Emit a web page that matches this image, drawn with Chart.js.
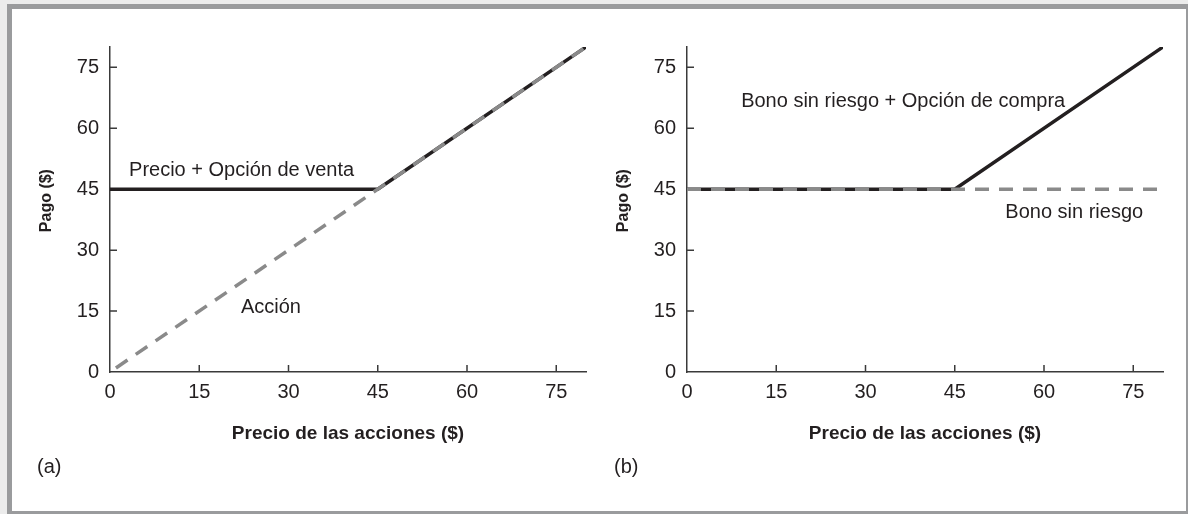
<!DOCTYPE html>
<html>
<head>
<meta charset="utf-8">
<title>Pago de opciones</title>
<script src="https://cdn.jsdelivr.net/npm/chart.js@4.4.1/dist/chart.umd.min.js"></script>
<style>
  body { margin: 0; width: 1188px; height: 514px; overflow: hidden; position: relative; background: #ececec; }
  #frame { position: absolute; left: 7px; top: 4px; width: 1184px; height: 512px; box-sizing: border-box; border: 5px solid #9a9b9d; background: #fff; }
  .panel { position: absolute; top: 9px; width: 577px; height: 500px; }
  #panelA { left: 12px; }
  #panelB { left: 589px; }
</style>
</head>
<body>
<div id="frame"></div>
<div class="panel" id="panelA"><canvas id="chartA"></canvas></div>
<div class="panel" id="panelB"><canvas id="chartB"></canvas></div>
<script>
// ejes
const tickValues = [0, 15, 30, 45, 60, 75];
const xMax = 80;
const yMax = 80;

// (a) precio + opción de venta vs acción
const aPutPrice = [0, 45, 80];
const aPutPay = [45, 45, 80];
const aStockPrice = [1, 80];
const aStockPay = [1, 80];

// (b) bono sin riesgo + opción de compra vs bono
const bCallPrice = [0, 45, 80];
const bCallPay = [45, 45, 80];
const bBondPrice = [0, 80];
const bBondPay = [45, 45];

// rótulos en coordenadas de datos [texto, x, y]
const aNotes = [['Precio + Opción de venta', 3.2, 48.2], ['Acción', 22, 14.5]];
const bNotes = [['Bono sin riesgo + Opción de compra', 9.1, 65.2], ['Bono sin riesgo', 53.5, 38]];

const FONT = '"Liberation Sans", Arial, sans-serif';
const textColor = '#231f20';
const axisColor = '#3a3a3a';
const black = '#231f20';
const gray = '#8a8a8a';

function toPoints(xs, ys) {
    return xs.map((x, i) => ({ x: x, y: ys[i] }));
}

const decor = {
    id: 'decor',
    beforeDatasetsDraw(chart) {
        // marcas de los ejes hacia dentro
        const { ctx, scales: { x, y } } = chart;
        ctx.save();
        ctx.strokeStyle = axisColor;
        ctx.lineWidth = 1.5;
        ctx.beginPath();
        tickValues.forEach(v => {
            if (v === 0) return;
            const px = x.getPixelForValue(v);
            ctx.moveTo(px, y.bottom);
            ctx.lineTo(px, y.bottom - 7);
            const py = y.getPixelForValue(v);
            ctx.moveTo(x.left, py);
            ctx.lineTo(x.left + 7, py);
        });
        ctx.stroke();
        ctx.restore();
    },
    afterDatasetsDraw(chart, args, opts) {
        const { ctx, scales: { x, y } } = chart;
        ctx.save();
        ctx.fillStyle = textColor;
        ctx.font = '20px ' + FONT;
        ctx.textAlign = 'left';
        ctx.textBaseline = 'alphabetic';
        opts.notes.forEach(n => {
            ctx.fillText(n[0], x.getPixelForValue(n[1]), y.getPixelForValue(n[2]));
        });
        ctx.fillText(opts.tag, 25, 464);
        ctx.restore();
    }
};

function makePanel(id, datasets, notes, tag) {
    return new Chart(document.getElementById(id), {
        type: 'line',
        data: { datasets: datasets },
        options: {
            responsive: true,
            maintainAspectRatio: false,
            animation: false,
            events: [],
            layout: { padding: { top: 38, right: 3, left: 0, bottom: 0 } },
            plugins: {
                legend: { display: false },
                tooltip: { enabled: false },
                decor: { notes: notes, tag: tag }
            },
            elements: { point: { radius: 0 }, line: { tension: 0, borderCapStyle: 'butt' } },
            scales: {
                x: {
                    type: 'linear',
                    min: 0,
                    max: xMax,
                    afterBuildTicks: s => { s.ticks = tickValues.map(v => ({ value: v })); },
                    afterFit: s => { s.height = 137; },
                    grid: { display: false, drawTicks: false },
                    border: { display: true, color: axisColor, width: 1.5 },
                    ticks: { color: textColor, font: { family: FONT, size: 20 }, padding: 8, maxRotation: 0, autoSkip: false },
                    title: {
                        display: true,
                        text: 'Precio de las acciones ($)',
                        color: textColor,
                        font: { family: FONT, size: 19, weight: 'bold' },
                        padding: { top: 0, bottom: 64 }
                    }
                },
                y: {
                    type: 'linear',
                    min: 0,
                    max: yMax,
                    afterBuildTicks: s => { s.ticks = tickValues.map(v => ({ value: v })); },
                    afterFit: s => { s.width = 98; },
                    grid: { display: false, drawTicks: false },
                    border: { display: true, color: axisColor, width: 1.5 },
                    ticks: { color: textColor, font: { family: FONT, size: 20 }, padding: 11, autoSkip: false },
                    title: {
                        display: true,
                        // espacios delante para subir el título unos píxeles
                        text: '\u00a0\u00a0\u00a0\u00a0Pago ($)',
                        color: textColor,
                        font: { family: FONT, size: 16, weight: 'bold' },
                        padding: { top: 25, bottom: 0 }
                    }
                }
            }
        },
        plugins: [decor]
    });
}

// el gris discontinuo va primero para quedar encima de la línea negra
makePanel('chartA', [
    { data: toPoints(aStockPrice, aStockPay), borderColor: gray, borderWidth: 3.5, borderDash: [14, 10] },
    { data: toPoints(aPutPrice, aPutPay), borderColor: black, borderWidth: 3.5 }
], aNotes, '(a)');

makePanel('chartB', [
    { data: toPoints(bBondPrice, bBondPay), borderColor: gray, borderWidth: 3.5, borderDash: [14, 10] },
    { data: toPoints(bCallPrice, bCallPay), borderColor: black, borderWidth: 3.5 }
], bNotes, '(b)');
</script>
</body>
</html>
